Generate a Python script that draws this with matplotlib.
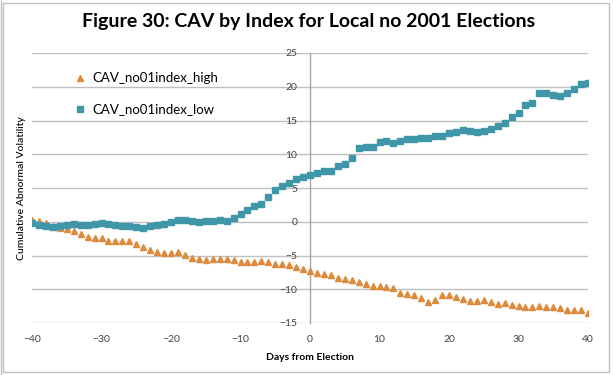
import matplotlib
matplotlib.use("Agg")
import matplotlib.pyplot as plt
from matplotlib.patches import Rectangle

days = list(range(-40, 41))

cav_high = [0.25, 0.05, -0.15, -0.6, -0.95, -1.05, -1.35, -1.85, -2.3, -2.4,
            -2.35, -2.8, -2.85, -2.9, -2.9, -3.35, -3.7, -4.15, -4.45, -4.65,
            -4.7, -4.45, -4.95, -5.35, -5.55, -5.65, -5.55, -5.5, -5.45, -5.7,
            -5.9, -6.0, -6.0, -5.85, -6.0, -6.2, -6.3, -6.4, -6.65, -7.05,
            -7.3, -7.65, -7.8, -7.85, -8.3, -8.5, -8.6, -8.9, -9.25, -9.5,
            -9.55, -9.6, -9.85, -10.5, -10.7, -10.9, -11.25, -11.85, -11.6, -10.9,
            -10.9, -11.1, -11.5, -11.7, -11.7, -11.65, -11.95, -12.2, -12.0, -12.35,
            -12.55, -12.6, -12.6, -12.5, -12.6, -12.65, -12.85, -13.05, -13.1, -13.1,
            -13.45]

cav_low = [-0.2, -0.5, -0.7, -0.8, -0.7, -0.45, -0.3, -0.45, -0.5, -0.4,
           -0.25, -0.4, -0.55, -0.6, -0.65, -0.75, -0.9, -0.6, -0.45, -0.4,
           -0.05, 0.25, 0.25, 0.1, -0.05, 0.05, 0.05, 0.2, 0.15, 0.55,
           1.1, 1.8, 2.4, 2.65, 3.65, 4.65, 5.25, 5.75, 6.3, 6.65,
           6.95, 7.15, 7.55, 7.55, 8.2, 8.55, 9.45, 10.9, 11.1, 11.1,
           11.75, 11.95, 11.65, 12.0, 12.2, 12.2, 12.4, 12.4, 12.7, 12.65,
           13.2, 13.3, 13.55, 13.45, 13.3, 13.4, 13.75, 14.2, 14.65, 15.45,
           16.15, 17.3, 17.6, 19.05, 19.05, 18.8, 18.7, 19.05, 19.65, 20.4,
           20.6]

x_ticks = [-40, -30, -20, -10, 0, 10, 20, 30, 40]
y_ticks = [-15, -10, -5, 0, 5, 10, 15, 20, 25]

FONT = "Lato"
W, H = 613, 375
fig = plt.figure(figsize=(W / 100, H / 100), dpi=100)
fig.patch.set_facecolor("white")

ax = fig.add_axes([32 / W, (H - 323) / H, (588 - 32) / W, (323 - 53) / H])
ax.set_xlim(-40, 40)
ax.set_ylim(-15, 25)

grid_c = "#BFBFBF"
for yv in y_ticks:
    ax.axhline(yv, color=grid_c, lw=1.0, zorder=0)

ax.plot(days, cav_high, linestyle="none", marker="^", markersize=5,
        color="#DE8A3C", label="CAV_no01index_high", zorder=3)
ax.plot(days, cav_low, linestyle="none", marker="s", markersize=4.3,
        color="#3E96A8", label="CAV_no01index_low", zorder=3)

for s in ["top", "right", "bottom"]:
    ax.spines[s].set_visible(False)
ax.spines["left"].set_position(("data", 0))
ax.spines["left"].set_color("#A6A6A6")
ax.spines["left"].set_linewidth(1.0)

ax.set_xticks(x_ticks)
ax.set_yticks(y_ticks)
ax.tick_params(axis="both", length=0, labelsize=7.5, colors="#404040")
ax.tick_params(axis="y", pad=9)
ax.tick_params(axis="x", pad=9)
for lab in ax.get_xticklabels() + ax.get_yticklabels():
    lab.set_family(FONT)

ax.set_xlabel("Days from Election", fontsize=7.5, fontweight="bold",
              family=FONT, color="#000000", labelpad=6)
fig.text(22 / W, 1 - 188 / H, "Cumulative Abnormal Volatility", rotation=90,
         ha="center", va="center", fontsize=7.5, fontweight="medium",
         family=FONT, color="#000000")

fig.text(309 / W, 1 - 22 / H, "Figure 30: CAV by Index for Local no 2001 Elections",
         ha="center", va="center", fontsize=14, fontweight="bold", family=FONT)

leg = ax.legend(loc="upper left", bbox_to_anchor=(68 / W, 1 - 67 / H),
                bbox_transform=fig.transFigure, frameon=False,
                prop={"family": FONT, "size": 9.5}, handlelength=1.0,
                handletextpad=0.45, labelspacing=1.45, borderaxespad=0)

fig.patches.append(Rectangle((3 / W, 3 / H), (W - 7) / W, (H - 6) / H,
                             transform=fig.transFigure, fill=False,
                             edgecolor="#BFBFBF", lw=1.0))
fig.patches.append(Rectangle((0.5 / W, 0), 0.0, 1.0, transform=fig.transFigure,
                             fill=False, edgecolor="#BFBFBF", lw=1.0))

fig.savefig("out.png", dpi=100, facecolor="white")
